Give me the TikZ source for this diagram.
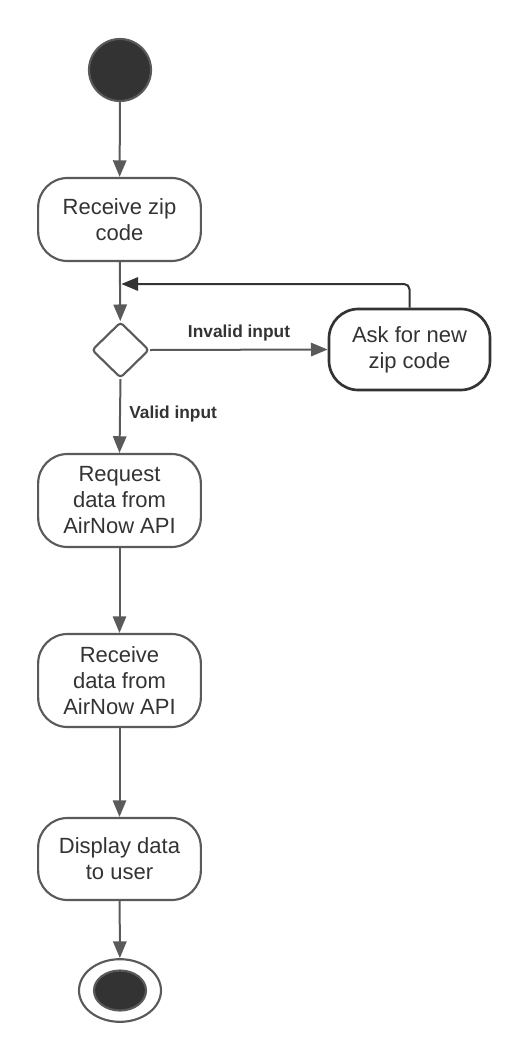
\documentclass[tikz,border=0pt]{standalone}
\usepackage{fontspec}
\setmainfont{Liberation Sans}
\usetikzlibrary{arrows.meta,shapes.geometric}
\definecolor{ln}{HTML}{5A5A5A}
\definecolor{dk}{HTML}{333333}
\definecolor{tx}{HTML}{333333}
\begin{document}
\begin{tikzpicture}[x=0.75pt,y=-0.75pt,
  act/.style={draw=ln, line width=1.6pt, rounded corners=22pt, fill=white, inner sep=0pt,
    minimum width=122pt, align=center, text=tx, font=\fontsize{16.5}{19.5}\selectfont},
  arr/.style={draw=ln, line width=1.5pt, -{Triangle[length=12.5pt,width=10pt]}},
  lbl/.style={text=tx, font=\bfseries\fontsize{13}{15}\selectfont, inner sep=0pt}]
\useasboundingbox (0,0) rectangle (530,1060);
\node[circle, draw=ln, line width=1.6pt, fill=dk, minimum size=46.5pt, inner sep=0pt] (start) at (120,70) {};
\node[act, minimum height=62.25pt] (recv) at (119.5,219.5) {Receive zip\\code};
\node[diamond, draw=ln, line width=1.6pt, fill=white, rounded corners=2.5pt, minimum width=43pt, minimum height=42pt, inner sep=0pt] (dec) at (120.5,350) {};
\node[act, draw=dk, line width=2pt, minimum width=120.75pt, minimum height=60.75pt] (ask) at (409.5,349.5) {Ask for new\\zip code};
\node[act, minimum height=69.75pt] (req) at (119.5,500.5) {Request\\data from\\AirNow API};
\node[act, minimum height=69.75pt] (rcvd) at (119.5,680.5) {Receive\\data from\\AirNow API};
\node[act, minimum height=61.5pt] (disp) at (119.5,859) {Display data\\to user};
\node[ellipse, draw=ln, line width=1.6pt, fill=white, minimum width=61.5pt, minimum height=47pt, inner sep=0pt] (endo) at (120,990.5) {};
\node[ellipse, draw=ln, line width=1.6pt, fill=dk, minimum width=39pt, minimum height=30pt, inner sep=0pt] (endi) at (120,990.5) {};
\coordinate (join) at (120,284);
\node[lbl] (linv) at (239,333) {Invalid input};
\node[lbl, anchor=west] (lval) at (129,414) {Valid input};
\draw[arr] (start) -- (recv);
\draw[arr] (recv) -- (dec);
\draw[arr] (dec.east) -- (ask.west);
\draw[arr, draw=dk, rounded corners=4pt] (ask.north) |- ([xshift=1pt]join);
\draw[arr] (dec.south) -- (req.north);
\draw[arr] (req) -- (rcvd);
\draw[arr] (rcvd) -- (disp);
\draw[arr] (disp) -- (endo);
\end{tikzpicture}
\end{document}
